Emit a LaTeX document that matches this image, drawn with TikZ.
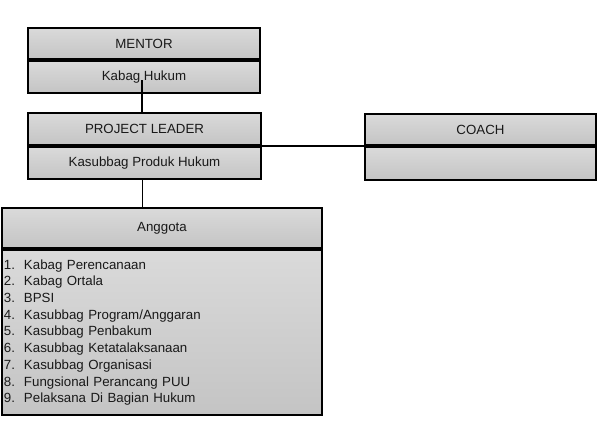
\documentclass[tikz,border=0pt]{standalone}
\usepackage{fontspec}
\setmainfont{Liberation Sans}
\usepackage{xcolor}
\usepackage{tikz}
\usetikzlibrary{positioning, calc}
\definecolor{orgtop}{RGB}{218,218,218}
\definecolor{orgbot}{RGB}{196,196,196}
\definecolor{orgtext}{RGB}{25,25,25}
\tikzset{
  hdr/.style={rectangle, draw=black, line width=2pt, top color=orgtop, bottom color=orgbot,
    anchor=north west, inner sep=0pt, text=orgtext, font=\fontsize{13.3}{16.7}\selectfont,
    align=center},
  lst/.style={hdr, align=left, inner xsep=2pt},
  conn/.style={draw=black, line width=1.2pt}
}
\newcommand{\itm}[2]{\makebox[20pt][l]{#1.}#2}

\begin{document}
\begin{tikzpicture}
  \useasboundingbox (0,0) rectangle (606pt,-437pt);
  % mentor
  \node[hdr, minimum width=232pt, minimum height=31pt] (mentor) at (27pt,-27pt) {MENTOR};
  \node[hdr, minimum width=232pt, minimum height=32pt] (kabag) at (mentor.south west) {Kabag Hukum};
  % project leader
  \node[hdr, minimum width=233pt, minimum height=32pt] (leader) at (27pt,-112pt) {PROJECT LEADER};
  \node[hdr, minimum width=233pt, minimum height=32pt] (produk) at (leader.south west) {Kasubbag Produk Hukum};
  % coach
  \node[hdr, minimum width=231pt, minimum height=31pt] (coach) at (364pt,-113pt) {COACH};
  \node[hdr, minimum width=231pt, minimum height=33pt] (coachsub) at (coach.south west) {};
  % anggota
  \node[hdr, minimum width=320pt, minimum height=40pt] (anggota) at (1pt,-207pt) {Anggota};
  \node[lst, minimum width=320pt, minimum height=165pt, text width=316pt] (daftar) at (anggota.south west) {%
    \itm{1}{Kabag Perencanaan}\\
    \itm{2}{Kabag Ortala}\\
    \itm{3}{BPSI}\\
    \itm{4}{Kasubbag Program/Anggaran}\\
    \itm{5}{Kasubbag Penbakum}\\
    \itm{6}{Kasubbag Ketatalaksanaan}\\
    \itm{7}{Kasubbag Organisasi}\\
    \itm{8}{Fungsional Perancang PUU}\\
    \itm{9}{Pelaksana Di Bagian Hukum}};
  % connectors
  \coordinate (kabagbawah) at ($(kabag.center)+(-2pt,-3pt)$);
  \coordinate (produkbawah) at ($(produk.south)+(-2pt,0)$);
  \draw[conn] (kabagbawah) -- (kabagbawah |- leader.north);
  \draw[conn] (leader.south east) -- (coach.south west);
  \draw[conn] (produkbawah) -- (produkbawah |- anggota.north);
\end{tikzpicture}
\end{document}
